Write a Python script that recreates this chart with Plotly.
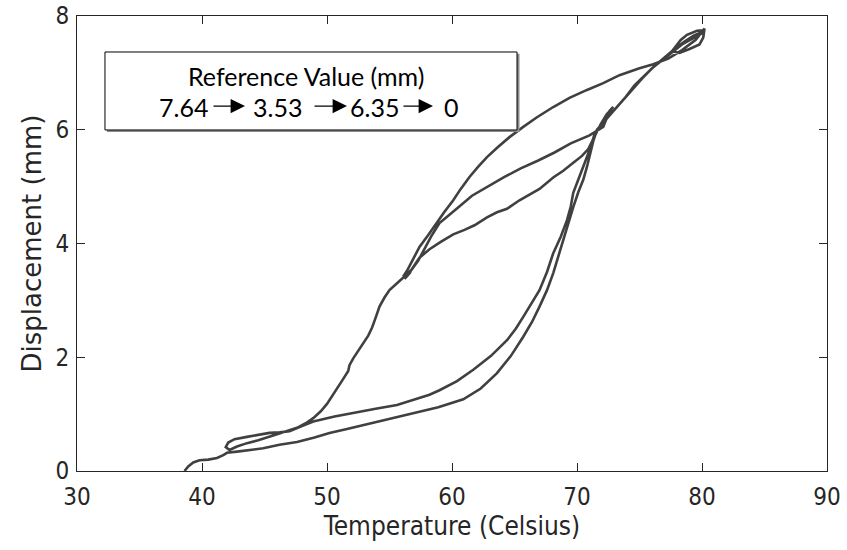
import plotly.graph_objects as go

# Temperature (Celsius) and displacement (mm), read in path order
temperature = [
    38.6, 38.9, 39.3, 39.8, 40.5, 41.2, 41.7, 42.0,
    42.8, 43.8, 44.9, 46.2, 47.6, 49.0, 50.2, 51.6, 52.9, 54.9, 56.9, 58.9, 60.9, 62.3, 63.6, 64.7,
    65.7, 66.4, 67.0, 67.6, 68.1, 68.5, 68.9, 69.3, 69.7, 70.1, 70.5, 70.8, 71.0, 71.3, 71.6, 72.2,
    73.0, 73.8, 74.6, 75.4, 76.2, 77.0, 77.8, 78.6, 79.3, 80.0, 80.2,
    80.1, 79.8, 79.0, 78.2, 77.6, 78.3, 78.8, 79.6, 80.1,
    79.5, 78.4, 77.3, 76.1, 75.0, 73.4, 72.1, 70.8, 69.4, 68.1, 66.8, 65.7, 64.6, 63.7, 62.8, 62.1,
    61.4, 60.7, 60.1, 59.4, 58.8, 58.1, 57.4, 56.9, 56.4,
    56.1, 56.5, 56.2, 56.7, 56.3, 56.8,
    57.4, 58.2, 59.1, 60.1, 61.0, 61.8, 62.8, 63.6, 64.4, 65.4, 66.2, 67.0, 68.1, 68.9, 69.7, 70.4,
    70.9, 71.4, 71.9, 72.4, 72.8,
    72.5, 72.9, 72.6,
    72.1, 71.0, 69.5, 68.2, 66.9, 65.5, 64.2, 62.9, 61.6, 60.3, 59.0, 58.4, 57.9, 57.3, 56.7, 56.3,
    55.6, 55.0, 54.6, 54.2, 53.9, 53.6, 53.3, 52.9, 52.5, 52.1, 51.8, 51.7, 51.3, 51.0, 50.5, 50.0,
    49.5, 48.9, 48.3, 47.6, 46.5, 45.4, 44.5, 43.6, 42.8, 42.2, 41.9, 42.1,
    42.6, 43.6, 44.5, 45.4, 46.2, 47.0, 48.0, 48.9, 50.6, 52.4, 54.0, 55.6, 57.0, 58.2, 59.0, 60.4,
    61.7, 63.1, 64.4, 65.1, 65.7, 66.4, 67.0, 67.6, 68.1, 68.7, 69.2, 69.5, 69.7, 70.1, 70.5, 71.0,
    71.4, 72.0, 72.8, 73.6, 74.4, 75.2, 76.0, 76.8, 77.6, 78.4, 79.2, 79.8, 80.2,
]
displacement = [
    0.00, 0.08, 0.15, 0.19, 0.20, 0.23, 0.28, 0.32,
    0.34, 0.37, 0.40, 0.46, 0.51, 0.59, 0.67, 0.74, 0.81, 0.91, 1.02, 1.12, 1.26, 1.45, 1.72, 2.02,
    2.36, 2.62, 2.89, 3.18, 3.48, 3.78, 4.06, 4.35, 4.64, 4.90, 5.12, 5.35, 5.52, 5.80, 6.00, 6.15,
    6.35, 6.55, 6.78, 6.95, 7.12, 7.27, 7.42, 7.55, 7.65, 7.72, 7.78,
    7.62, 7.50, 7.42, 7.35, 7.38, 7.58, 7.67, 7.74, 7.75,
    7.58, 7.40, 7.25, 7.15, 7.08, 6.96, 6.82, 6.70, 6.56, 6.40, 6.22, 6.05, 5.87, 5.70, 5.52, 5.35,
    5.17, 4.96, 4.76, 4.56, 4.36, 4.15, 3.94, 3.72, 3.52,
    3.42, 3.45, 3.38, 3.50, 3.44, 3.55,
    3.75, 3.90, 4.03, 4.16, 4.24, 4.32, 4.46, 4.55, 4.61, 4.76, 4.86, 4.96, 5.16, 5.28, 5.42, 5.54,
    5.66, 5.88, 6.10, 6.28, 6.36,
    6.30, 6.40, 6.33,
    6.05, 5.90, 5.76, 5.60, 5.46, 5.32, 5.17, 5.00, 4.84, 4.60, 4.36, 4.15, 3.94, 3.70, 3.52, 3.44,
    3.30, 3.18, 3.05, 2.89, 2.70, 2.52, 2.38, 2.25, 2.12, 1.98, 1.86, 1.76, 1.62, 1.52, 1.37, 1.18,
    1.05, 0.93, 0.84, 0.76, 0.68, 0.60, 0.54, 0.49, 0.43, 0.37, 0.42, 0.50,
    0.56, 0.60, 0.64, 0.67, 0.68, 0.70, 0.79, 0.87, 0.96, 1.04, 1.10, 1.16, 1.26, 1.34, 1.42, 1.58,
    1.78, 2.02, 2.30, 2.50, 2.71, 2.95, 3.18, 3.50, 3.83, 4.12, 4.41, 4.65, 4.89, 5.12, 5.35, 5.64,
    5.92, 6.10, 6.30, 6.50, 6.70, 6.90, 7.08, 7.22, 7.36, 7.50, 7.60, 7.68, 7.72,
]

x_ticks = [30, 40, 50, 60, 70, 80, 90]
y_ticks = [0, 2, 4, 6, 8]
box_title = "Reference Value (mm)"
reference_values = ["7.64", "3.53", "6.35", "0"]

AX = "#262626"
fig = go.Figure()
fig.add_trace(go.Scatter(
    x=temperature, y=displacement, mode="lines",
    line=dict(color="#404040", width=2.6), showlegend=False, hoverinfo="skip",
))

axis_common = dict(
    showgrid=False, zeroline=False, showline=True, linecolor=AX, linewidth=1,
    mirror="ticks", ticks="inside", ticklen=8, tickwidth=1, tickcolor=AX, automargin=False,
    tickfont=dict(family="DejaVu Sans Condensed", size=24, color=AX),
)
fig.update_xaxes(range=[30, 90], tickvals=x_ticks, ticktext=[str(v) for v in x_ticks],
                 ticklabelstandoff=4,
                 title=dict(text="Temperature (Celsius)", standoff=4,
                            font=dict(family="DejaVu Sans Condensed", size=26, color=AX)),
                 **axis_common)
fig.update_yaxes(range=[0, 8], tickvals=y_ticks, ticktext=[str(v) for v in y_ticks],
                 ticklabelstandoff=2,
                 title=dict(text="Displacement (mm)", standoff=6,
                            font=dict(family="DejaVu Sans", size=26, color=AX)),
                 **axis_common)

# text box with shadow
fig.add_shape(type="rect", xref="paper", yref="paper", x0=0.0400, x1=0.5900, y0=0.7450, y1=0.9170,
              line=dict(width=0), fillcolor="#8c8c8c", layer="above")
fig.add_shape(type="rect", xref="paper", yref="paper", x0=0.0373, x1=0.5867, y0=0.7495, y1=0.9209,
              line=dict(color="black", width=1), fillcolor="white", layer="above")
fig.add_annotation(xref="paper", yref="paper", x=0.3053, y=0.868, text=box_title, showarrow=False,
                   xanchor="center", yanchor="middle",
                   font=dict(family="Lato", size=25, color="black"))
num_x = [0.142, 0.2667, 0.3967, 0.4993]
for v, xp in zip(reference_values, num_x):
    fig.add_annotation(xref="paper", yref="paper", x=xp, y=0.80, text=v, showarrow=False,
                       xanchor="center", yanchor="middle",
                       font=dict(family="Lato", size=25, color="black"))
arrow_tail = [0.180, 0.3147, 0.4333]
arrow_head = [0.224, 0.360, 0.4747]
for t, h in zip(arrow_tail, arrow_head):
    fig.add_annotation(xref="paper", yref="paper", x=h, y=0.802, ax=-(h - t) * 750, ay=0,
                       text="", showarrow=True, arrowhead=2, arrowsize=2.4, arrowwidth=1.2,
                       arrowcolor="black")

fig.update_layout(
    width=847, height=550, margin=dict(l=77, r=20, t=16, b=79),
    paper_bgcolor="white", plot_bgcolor="white",
)
fig.write_html("out.html")
